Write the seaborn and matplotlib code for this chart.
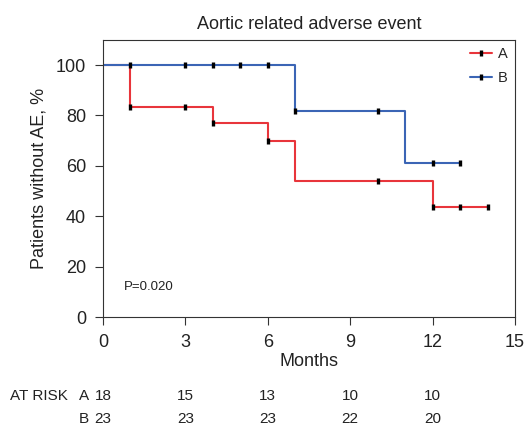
import numpy as np
import pandas as pd
import matplotlib
matplotlib.use("Agg")
import matplotlib.pyplot as plt
import matplotlib.transforms as mtransforms
from matplotlib.lines import Line2D
import seaborn as sns

# Kaplan-Meier step curves (time in months, % without AE)
A_TIMES = [0, 1, 4, 6, 7, 12, 14]
A_SURV = [100, 83.3, 77.0, 70.0, 54.0, 43.5, 43.5]
B_TIMES = [0, 7, 11, 13]
B_SURV = [100, 81.8, 61.3, 61.3]

# censoring marks
A_CENS_T = [1, 3, 4, 6, 10, 12, 13, 14]
A_CENS_S = [83.3, 83.3, 77.0, 70.0, 54.0, 43.5, 43.5, 43.5]
B_CENS_T = [1, 3, 4, 5, 6, 7, 10, 12, 13]
B_CENS_S = [100, 100, 100, 100, 100, 81.8, 81.8, 61.3, 61.3]

# numbers at risk
RISK_T = [0, 3, 6, 9, 12]
RISK_A = [18, 15, 13, 10, 10]
RISK_B = [23, 23, 23, 22, 20]

RED = "#e8353b"
BLUE = "#3b65b5"
INK = "#222222"

sns.set_style("ticks")
plt.rcParams["font.family"] = ["Liberation Sans", "DejaVu Sans"]

fig = plt.figure(figsize=(5.25, 4.29), dpi=100)
ax = fig.add_axes([0.196, 0.261, 0.785, 0.646])

curves = pd.concat([
    pd.DataFrame({"t": A_TIMES, "s": A_SURV, "g": "A"}),
    pd.DataFrame({"t": B_TIMES, "s": B_SURV, "g": "B"}),
])
sns.lineplot(data=curves, x="t", y="s", hue="g", palette={"A": RED, "B": BLUE},
             drawstyle="steps-post", linewidth=1.5, legend=False, ax=ax,
             estimator=None, sort=False)

cens = pd.concat([
    pd.DataFrame({"t": A_CENS_T, "s": A_CENS_S}),
    pd.DataFrame({"t": B_CENS_T, "s": B_CENS_S}),
])
sns.scatterplot(data=cens, x="t", y="s", marker="|", s=16, linewidth=2.4,
                color="black", zorder=5, ax=ax)

ax.set_xlim(0, 15)
ax.set_ylim(0, 110)
ax.set_xticks([0, 3, 6, 9, 12, 15])
ax.set_yticks([0, 20, 40, 60, 80, 100])
ax.tick_params(labelsize=13, length=6, pad=6, color="#333333", labelcolor=INK)
for sp in ax.spines.values():
    sp.set_color("#333333")
ax.set_xlabel("Months", fontsize=13, labelpad=2, color=INK)
ax.set_ylabel("Patients without AE, %", fontsize=13, labelpad=6, color=INK)
ax.set_title("Aortic related adverse event", fontsize=13, pad=8, color=INK)
ax.text(0.75, 12, "P=0.020", fontsize=9.5, va="center", color=INK)

handles = [
    Line2D([], [], color=RED, lw=1.5, marker="|", markersize=5,
           markeredgewidth=2.4, markeredgecolor="black"),
    Line2D([], [], color=BLUE, lw=1.5, marker="|", markersize=5,
           markeredgewidth=2.4, markeredgecolor="black"),
]
ax.legend(handles, ["A", "B"], loc="upper right", frameon=False, fontsize=10.5,
          handlelength=1.5, handletextpad=0.4, labelspacing=0.65,
          borderaxespad=0.1)

# at-risk table below the axes
trans = mtransforms.blended_transform_factory(ax.transData, fig.transFigure)
fig.text(0.019, 0.077, "AT RISK", fontsize=11, va="center", color=INK)
fig.text(0.170, 0.077, "A", fontsize=11, va="center", ha="right", color=INK)
fig.text(0.170, 0.023, "B", fontsize=11, va="center", ha="right", color=INK)
for t, a, b in zip(RISK_T, RISK_A, RISK_B):
    ax.text(t, 0.077, str(a), transform=trans, fontsize=11, ha="center",
            va="center", color=INK)
    ax.text(t, 0.023, str(b), transform=trans, fontsize=11, ha="center",
            va="center", color=INK)

fig.savefig("out.png", dpi=100)
